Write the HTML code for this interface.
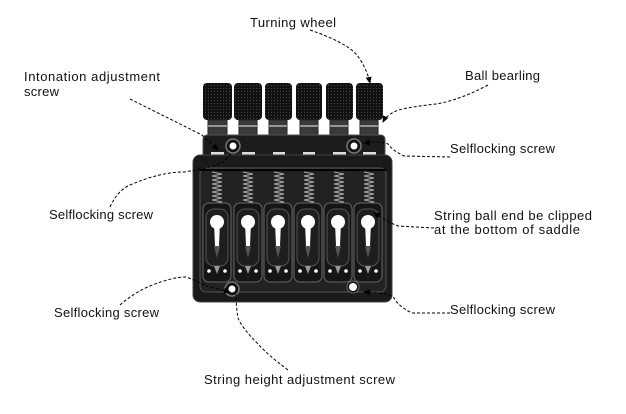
<!DOCTYPE html>
<html><head><style>
html,body{margin:0;padding:0;background:#fff;}
svg{display:block;font-family:"Liberation Sans",sans-serif;}
text{font-size:13px;fill:#111;}
</style></head><body>
<svg width="626" height="414" viewBox="0 0 626 414" xmlns="http://www.w3.org/2000/svg">
<defs>
<pattern id="knurl" width="3" height="3" patternUnits="userSpaceOnUse">
<rect width="3" height="3" fill="#111"/><rect x="1" y="1" width="1" height="1" fill="#444"/>
</pattern>
<marker id="ar" markerWidth="8" markerHeight="8" refX="6" refY="4" orient="auto" markerUnits="userSpaceOnUse">
<path d="M0,1 L7,4 L0,7 z" fill="#000"/>
</marker>
</defs>

<g>
<rect x="203" y="83" width="29" height="37" rx="4" fill="url(#knurl)"/>
<rect x="234" y="83" width="28" height="37" rx="4" fill="url(#knurl)"/>
<rect x="265" y="83" width="27" height="37" rx="4" fill="url(#knurl)"/>
<rect x="296" y="83" width="26" height="37" rx="4" fill="url(#knurl)"/>
<rect x="326" y="83" width="27" height="37" rx="4" fill="url(#knurl)"/>
<rect x="356" y="83" width="27" height="37" rx="4" fill="url(#knurl)"/>
</g>
<g fill="#3a3a3a" stroke="#222" stroke-width="1">
<rect x="208" y="120" width="19" height="16"/>
<rect x="239" y="120" width="18" height="16"/>
<rect x="269" y="120" width="18" height="16"/>
<rect x="300" y="120" width="18" height="16"/>
<rect x="330" y="120" width="18" height="16"/>
<rect x="360" y="120" width="18" height="16"/>
</g>
<g stroke="#ccc" stroke-width="1.2">
<line x1="208" y1="126" x2="227" y2="126"/><line x1="239" y1="126" x2="257" y2="126"/>
<line x1="269" y1="126" x2="287" y2="126"/><line x1="300" y1="126" x2="318" y2="126"/>
<line x1="330" y1="126" x2="348" y2="126"/><line x1="360" y1="126" x2="378" y2="126"/>
</g>

<rect x="203" y="135" width="182" height="24" rx="4" fill="#1c1c1c" stroke="#555"/>
<g fill="#ddd">
<rect x="211" y="152" width="13" height="4"/><rect x="242" y="152" width="13" height="4"/>
<rect x="273" y="152" width="12" height="4"/><rect x="303" y="152" width="12" height="4"/>
<rect x="333" y="152" width="13" height="4"/><rect x="363" y="152" width="13" height="4"/>
</g>
<circle cx="233" cy="146" r="7" fill="#111" stroke="#777" stroke-width="1.5"/><circle cx="233" cy="146" r="3.5" fill="#fff"/>
<circle cx="354" cy="146" r="7" fill="#111" stroke="#777" stroke-width="1.5"/><circle cx="354" cy="146" r="3.5" fill="#fff"/>

<rect x="193" y="155" width="199" height="147" rx="7" fill="#1a1a1a" stroke="#444"/>
<rect x="200" y="168" width="186" height="124" rx="6" fill="#222" stroke="#555"/>
<line x1="200" y1="170" x2="386" y2="170" stroke="#000" stroke-width="2"/>

<g stroke="#aaa" stroke-width="1" fill="none">
<path d="M212,172 l10,2 l-10,2 l10,2 l-10,2 l10,2 l-10,2 l10,2 l-10,2 l10,2 l-10,2 l10,2 l-10,2 l10,2 l-10,2 l10,2 l-10,2"/>
<path d="M243,172 l10,2 l-10,2 l10,2 l-10,2 l10,2 l-10,2 l10,2 l-10,2 l10,2 l-10,2 l10,2 l-10,2 l10,2 l-10,2 l10,2 l-10,2"/>
<path d="M274,172 l10,2 l-10,2 l10,2 l-10,2 l10,2 l-10,2 l10,2 l-10,2 l10,2 l-10,2 l10,2 l-10,2 l10,2 l-10,2 l10,2 l-10,2"/>
<path d="M304,172 l10,2 l-10,2 l10,2 l-10,2 l10,2 l-10,2 l10,2 l-10,2 l10,2 l-10,2 l10,2 l-10,2 l10,2 l-10,2 l10,2 l-10,2"/>
<path d="M334,172 l10,2 l-10,2 l10,2 l-10,2 l10,2 l-10,2 l10,2 l-10,2 l10,2 l-10,2 l10,2 l-10,2 l10,2 l-10,2 l10,2 l-10,2"/>
<path d="M364,172 l10,2 l-10,2 l10,2 l-10,2 l10,2 l-10,2 l10,2 l-10,2 l10,2 l-10,2 l10,2 l-10,2 l10,2 l-10,2 l10,2 l-10,2"/>
</g>

<g id="s">
<rect x="203" y="203" width="28" height="79" rx="6" fill="#151515" stroke="#666"/>
<rect x="206" y="209" width="22" height="57" rx="8" fill="#1e1e1e" stroke="#555"/>
<circle cx="217" cy="222" r="7" fill="#fff"/>
<path d="M214,222 h6 l-1,24 h-4 z" fill="#fff"/>
<path d="M214,246 h6 l-3,12 z" fill="#555"/>
<circle cx="209" cy="271" r="1.8" fill="#fff"/><circle cx="225" cy="271" r="1.8" fill="#fff"/>
<path d="M214,266 h6 l-3,8 z" fill="#999"/>
</g>
<use href="#s" x="31"/><use href="#s" x="61"/><use href="#s" x="91"/><use href="#s" x="121"/><use href="#s" x="151"/>

<circle cx="232" cy="289" r="7" fill="#111" stroke="#777" stroke-width="1.5"/><circle cx="232" cy="289" r="3.5" fill="#fff"/>
<circle cx="353" cy="287" r="6" fill="#111" stroke="#666" stroke-width="1"/><circle cx="353" cy="287" r="4" fill="#fff"/>

<g fill="none" stroke="#000" stroke-width="1" stroke-dasharray="3,2">
<path d="M310,30 Q345,42 356,54 Q366,66 370,83" marker-end="url(#ar)"/>
<path d="M488,85 Q460,100 436,104 Q400,108 394,112 Q386,116 383,122" marker-end="url(#ar)"/>
<path d="M130,99 L202,135 L218,150" marker-end="url(#ar)"/>
<path d="M450,157 L404,156 Q392,150 388,144 Q382,141 364,143" marker-end="url(#ar)"/>
<path d="M110,207 Q118,190 130,185 Q160,172 184,172 Q210,168 222,163 L232,153"/>
<path d="M434,228 L398,226 Q388,222 386,220 L374,213" marker-end="url(#ar)"/>
<path d="M120,305 Q135,292 150,286 Q172,277 186,277 Q200,282 206,286 L230,292" marker-end="url(#ar)"/>
<path d="M450,313 L412,313 Q398,306 394,298 Q391,293 364,292" marker-end="url(#ar)"/>
<path d="M288,370 Q268,355 258,344 Q242,328 238,318 Q236,306 236,294"/>
</g>

<text x="250" y="27" textLength="86">Turning wheel</text>
<text x="24" y="81" textLength="136">Intonation adjustment</text>
<text x="24" y="96" textLength="35">screw</text>
<text x="465" y="80" textLength="75">Ball bearling</text>
<text x="450" y="153" textLength="105">Selflocking screw</text>
<text x="49" y="219" textLength="104">Selflocking screw</text>
<text x="434" y="220" textLength="158">String ball end be clipped</text>
<text x="434" y="234" textLength="146">at the bottom of saddle</text>
<text x="54" y="317" textLength="105">Selflocking screw</text>
<text x="450" y="314" textLength="105">Selflocking screw</text>
<text x="204" y="384" textLength="191">String height adjustment screw</text>
</svg>
</body></html>
